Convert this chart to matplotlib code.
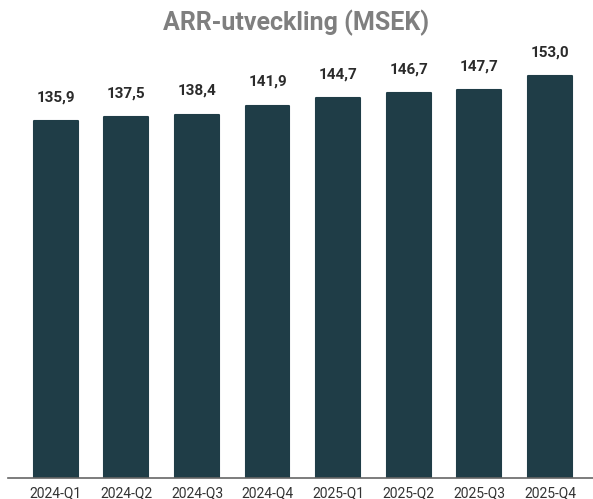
import matplotlib.pyplot as plt

# ---------- Data ----------
quarters = ["2024-Q1", "2024-Q2", "2024-Q3", "2024-Q4",
            "2025-Q1", "2025-Q2", "2025-Q3", "2025-Q4"]
arr_msek = [135.9, 137.5, 138.4, 141.9, 144.7, 146.7, 147.7, 153.0]

bar_color = "#1f3d47"

plt.rcParams['font.family'] = ['Roboto', 'DejaVu Sans']

fig = plt.figure(figsize=(5.93, 4.99), dpi=100)
ax = fig.add_axes([8 / 593, 21 / 499, 585 / 593, 420 / 499])

x = list(range(len(quarters)))
bars = ax.bar(x, arr_msek, width=0.62, color=bar_color,
              edgecolor=bar_color, linewidth=1.5, joinstyle='round')

for xi, v in zip(x, arr_msek):
    ax.annotate(f"{v:.1f}".replace(".", ","), (xi, v),
                xytext=(0, 12), textcoords="offset points",
                ha="center", va="bottom", fontsize=11,
                fontweight="bold", color="#2b2b2b")

ax.set_xlim(-0.677, 7.61)
ax.set_ylim(0, 160)
ax.set_xticks(x)
ax.set_xticklabels(quarters, fontsize=10, color="#333333")
ax.tick_params(axis="x", length=0, pad=6)
ax.set_yticks([])

for side in ["top", "right", "left"]:
    ax.spines[side].set_visible(False)
ax.spines["bottom"].set_color("#666666")
ax.spines["bottom"].set_linewidth(1.2)

fig.text(0.5, 0.955, "ARR-utveckling (MSEK)", ha="center", va="center",
         fontsize=18, fontweight="bold", color="#7f7f7f")

fig.savefig("out.png", dpi=100)
